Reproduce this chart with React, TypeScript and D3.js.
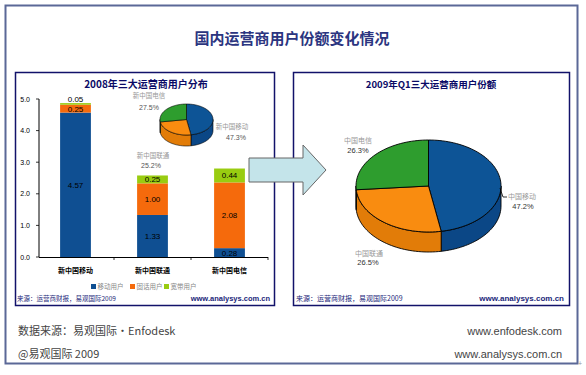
import React from 'react';
import * as d3 from 'd3';

const categories = ['新中国移动', '新中国联通', '新中国电信'];
const mobileUsers = [4.57, 1.33, 0.28];
const fixedUsers = [0.25, 1.0, 2.08];
const broadbandUsers = [0.05, 0.25, 0.44];
const seriesKeys = ['mobile', 'fixed', 'broadband'];
const seriesNames = ['移动用户', '固话用户', '宽带用户'];
const yTicks = [0, 1, 2, 3, 4, 5];

const pie2008Labels = ['新中国移动', '新中国联通', '新中国电信'];
const pie2008Values = [47.3, 25.2, 27.5];
const pie2009Labels = ['中国移动', '中国联通', '中国电信'];
const pie2009Values = [47.2, 26.5, 26.3];

const mainTitle = '国内运营商用户份额变化情况';
const leftTitle = '2008年三大运营商用户分布';
const rightTitle = '2009年Q1三大运营商用户份额';
const sourceText = '来源：运营商财报，易观国际2009';
const siteText = 'www.analysys.com.cn';

const CJK = "'Noto Sans CJK SC', 'Noto Sans', sans-serif";
const LAT = "'Liberation Sans', Arial, sans-serif";

const barColors = ['#0f4f92', '#f56a0c', '#99cc11'];
const pieTop = ['#0d5496', '#f98c10', '#2e9d2e'];
const pieSide = ['#0b4786', '#e27c08', '#268426'];

function pt(cx: number, cy: number, rx: number, ry: number, a: number, dy = 0): [number, number] {
  return [cx + rx * Math.sin(a), cy - ry * Math.cos(a) + dy];
}

function topPath(cx: number, cy: number, rx: number, ry: number, a0: number, a1: number) {
  const p = d3.path();
  p.moveTo(cx, cy);
  const n = Math.max(2, Math.ceil((a1 - a0) / 0.04));
  for (let i = 0; i <= n; i++) {
    const [px, py] = pt(cx, cy, rx, ry, a0 + ((a1 - a0) * i) / n);
    p.lineTo(px, py);
  }
  p.closePath();
  return p.toString();
}

function sidePath(cx: number, cy: number, rx: number, ry: number, depth: number, a0: number, a1: number) {
  const s = Math.max(a0, Math.PI / 2);
  const e = Math.min(a1, (3 * Math.PI) / 2);
  if (e <= s) return null;
  const p = d3.path();
  const n = Math.max(2, Math.ceil((e - s) / 0.04));
  for (let i = 0; i <= n; i++) {
    const [px, py] = pt(cx, cy, rx, ry, s + ((e - s) * i) / n);
    if (i === 0) p.moveTo(px, py);
    else p.lineTo(px, py);
  }
  for (let i = n; i >= 0; i--) {
    const [px, py] = pt(cx, cy, rx, ry, s + ((e - s) * i) / n, depth);
    p.lineTo(px, py);
  }
  p.closePath();
  return p.toString();
}

function Pie3D({ values, cx, cy, rx, ry, depth, sw }: any) {
  const arcs = d3.pie<number>().sort(null).value((d) => d)(values);
  return (
    <g>
      {arcs.map((a, i) => {
        const d = sidePath(cx, cy, rx, ry, depth, a.startAngle, a.endAngle);
        return d ? <path key={'s' + i} d={d} fill={pieSide[i]} stroke="#000" strokeWidth={sw} /> : null;
      })}
      {arcs.map((a, i) => (
        <path key={'t' + i} d={topPath(cx, cy, rx, ry, a.startAngle, a.endAngle)} fill={pieTop[i]} stroke="#000" strokeWidth={sw} />
      ))}
    </g>
  );
}

export default function App() {
  const x = d3.scaleBand<string>().domain(categories).range([37, 268]).paddingInner(0.6).paddingOuter(0.3);
  const y = d3.scaleLinear().domain([0, 5]).range([257, 99]);
  const table = categories.map((c, i) => ({
    cat: c,
    mobile: mobileUsers[i],
    fixed: fixedUsers[i],
    broadband: broadbandUsers[i],
  }));
  const stacked = d3.stack<any>().keys(seriesKeys)(table);
  const fmt = d3.format('.2f');
  const fmt1 = d3.format('.1f');

  const leftPieLabelPos = [
    [232, 127, 236, 137],
    [153, 156, 151, 165],
    [149, 96, 149, 107],
  ];
  const rightPieLabelPos = [
    [522, 196, 523, 206],
    [369, 253, 368, 262],
    [358, 140, 358, 150],
  ];

  const labelY = (d: any) => {
    const h = y(d[0]) - y(d[1]);
    if (h < 4) return y(d[1]) - 1;
    return (y(d[0]) + y(d[1])) / 2 + 3;
  };

  return (
    <div style={{ position: 'absolute', left: 0, top: 0 }}>
      <svg width={586} height={375} style={{ display: 'block', background: '#fff' }}>
        {/* outer frame */}
        <rect x={5.5} y={5.5} width={572} height={358} fill="#fff" stroke="#5b6897" strokeWidth={2} />
        <text x={580} y={366} fontSize={7} fill="#999" fontFamily={LAT} textAnchor="middle">+</text>
        <text x={292} y={44} textAnchor="middle" fontFamily={CJK} fontSize={15} fontWeight="bold" fill="#2b3580">
          {mainTitle}
        </text>

        {/* left panel */}
        <rect x={15.5} y={72.5} width={259} height={233} fill="#fff" stroke="#12126a" strokeWidth={1.5} />
        <text x={146} y={88} textAnchor="middle" fontFamily={CJK} fontSize={10} fontWeight="bold" fill="#0a0a66">
          {leftTitle}
        </text>
        {/* y axis */}
        <line x1={39} x2={39} y1={y(5)} y2={y(0)} stroke="#000" strokeWidth={1} />
        {yTicks.map((t) => (
          <g key={t}>
            <line x1={36} x2={39} y1={y(t)} y2={y(t)} stroke="#000" strokeWidth={0.8} />
            <text x={30} y={y(t) + 2.5} textAnchor="end" fontFamily={LAT} fontSize={7} fill="#000">
              {fmt1(t)}
            </text>
          </g>
        ))}
        {/* bars */}
        {stacked.map((s, si) =>
          s.map((d: any, ci: number) => (
            <rect
              key={si + '-' + ci}
              x={x(categories[ci])}
              width={x.bandwidth()}
              y={y(d[1])}
              height={y(d[0]) - y(d[1])}
              fill={barColors[si]}
            />
          ))
        )}
        {stacked.map((s, si) =>
          s.map((d: any, ci: number) => (
            <text
              key={'l' + si + '-' + ci}
              x={(x(categories[ci]) as number) + x.bandwidth() / 2}
              y={labelY(d)}
              textAnchor="middle"
              fontFamily={LAT}
              fontSize={8}
              fill="#000"
            >
              {fmt(d[1] - d[0])}
            </text>
          ))
        )}
        {/* x axis */}
        <line x1={39} x2={268} y1={257.5} y2={257.5} stroke="#000" strokeWidth={1} />
        {[1, 2, 3].map((i) => (
          <line key={i} x1={37 + x.step() * i} x2={37 + x.step() * i} y1={257} y2={260} stroke="#000" strokeWidth={0.8} />
        ))}
        {categories.map((c) => (
          <text key={c} x={(x(c) as number) + x.bandwidth() / 2} y={273} textAnchor="middle" fontFamily={CJK} fontSize={7} fontWeight="bold" fill="#000">
            {c}
          </text>
        ))}
        {/* legend */}
        {seriesNames.map((n, i) => {
          const lx = [91, 130, 164][i];
          return (
            <g key={n}>
              <rect x={lx} y={284} width={5} height={5} fill={barColors[i]} />
              <text x={lx + 6.5} y={289} fontFamily={CJK} fontSize={6.5} fill="#888">
                {n}
              </text>
            </g>
          );
        })}
        <text x={17} y={300.5} fontFamily={CJK} fontSize={6.5} fill="#1b1f7a">{sourceText}</text>
        <text x={270} y={300.5} textAnchor="end" fontFamily={LAT} fontSize={7.5} fontWeight="bold" fill="#1b1f7a">{siteText}</text>

        {/* left small pie */}
        <Pie3D values={pie2008Values} cx={186.5} cy={119.5} rx={26.5} ry={15.5} depth={11} sw={0.6} />
        {pie2008Labels.map((l, i) => {
          const [lx, ly, vx, vy] = leftPieLabelPos[i];
          return (
            <g key={l}>
              <text x={lx} y={ly + 2} textAnchor="middle" fontFamily={CJK} fontSize={6.5} fill="#999">{l}</text>
              <text x={vx} y={vy + 2.5} textAnchor="middle" fontFamily={LAT} fontSize={7} fill="#555">{fmt1(pie2008Values[i]) + '%'}</text>
            </g>
          );
        })}

        {/* right panel */}
        <rect x={293.5} y={72.5} width={276} height={233} fill="#fff" stroke="#12126a" strokeWidth={1.5} />
        <text x={431} y={88} textAnchor="middle" fontFamily={CJK} fontSize={9.5} fontWeight="bold" fill="#0a0a66">
          {rightTitle}
        </text>
        <Pie3D values={pie2009Values} cx={428.5} cy={186} rx={72.5} ry={46} depth={20} sw={0.9} />
        <polyline points="500,188 503,197 507,197" fill="none" stroke="#000" strokeWidth={0.8} />
        {pie2009Labels.map((l, i) => {
          const [lx, ly, vx, vy] = rightPieLabelPos[i];
          return (
            <g key={l}>
              <text x={lx} y={ly + 2.5} textAnchor="middle" fontFamily={CJK} fontSize={7} fill="#999">{l}</text>
              <text x={vx} y={vy + 2.5} textAnchor="middle" fontFamily={LAT} fontSize={7.5} fill="#333">{fmt1(pie2009Values[i]) + '%'}</text>
            </g>
          );
        })}
        <text x={296} y={300.5} fontFamily={CJK} fontSize={7} fill="#1b1f7a">{sourceText}</text>
        <text x={564} y={300.5} textAnchor="end" fontFamily={LAT} fontSize={8} fontWeight="bold" fill="#1b1f7a">{siteText}</text>

        {/* arrow */}
        <path d="M249,158 L303,158 L303,145 L326,170 L303,195 L303,182 L249,182 Z" fill="#c4e4ea" stroke="#666" strokeWidth={1} />

        {/* footer */}
        <text x={18} y={335} fontFamily={CJK} fontSize={11} fill="#444">数据来源：易观国际·Enfodesk</text>
        <text x={562} y={335} textAnchor="end" fontFamily={LAT} fontSize={11} fill="#444">www.enfodesk.com</text>
        <text x={18} y={358} fontFamily={CJK} fontSize={11} fill="#444">@易观国际 2009</text>
        <text x={562} y={358} textAnchor="end" fontFamily={LAT} fontSize={11} fill="#444">www.analysys.com.cn</text>
      </svg>
    </div>
  );
}
